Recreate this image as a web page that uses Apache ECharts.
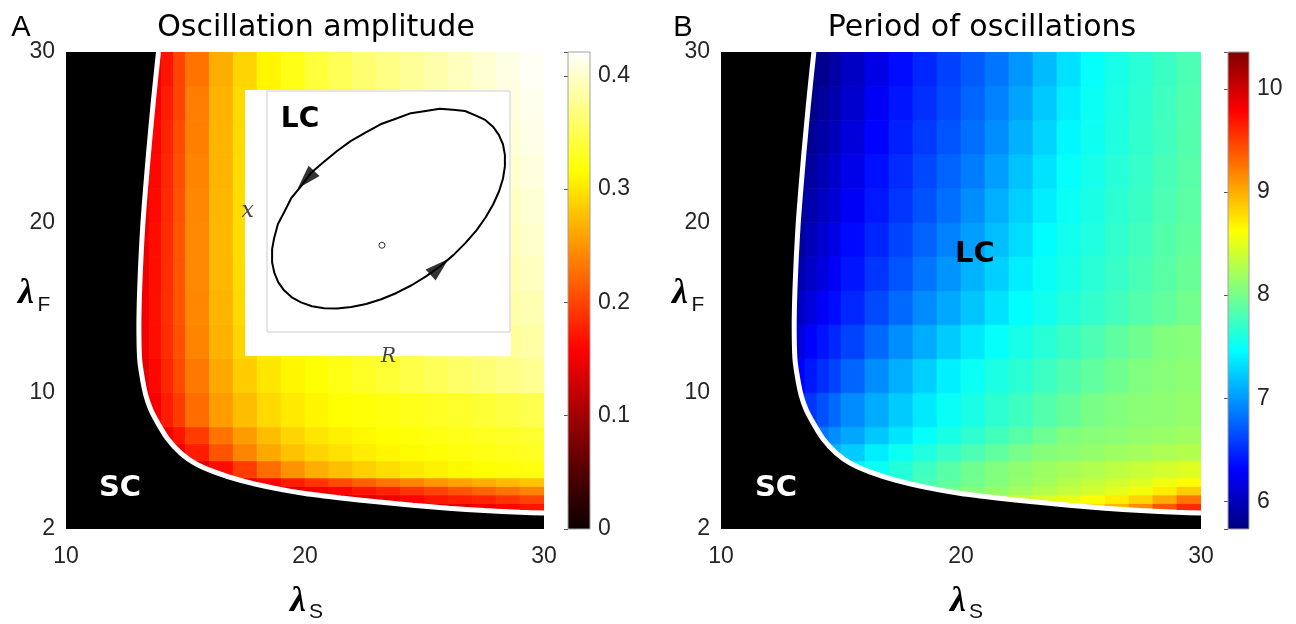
<!DOCTYPE html>
<html><head><meta charset="utf-8">
<script src="https://cdn.jsdelivr.net/npm/echarts@6/dist/echarts.min.js"></script>
<style>html,body{margin:0;padding:0;background:#fff}#c{width:1296px;height:624px}</style>
</head><body><div id="c"></div>
<script>
// ---------- data ----------
const lamS_edges = [10,13,13.5,14,14.5,15,16,17,18,19,20,21,22,23,24,25,26,27,28,29,30];
const lamF_edges = [2,3,3.5,4,4.5,5,6,7,8,10,12,14,16,18,20,22,24,26,28,30];
// amplitude, rows from bottom (λF 2–3) to top (λF 28–30), columns follow lamS_edges
const amplitude = [
 [0,0,0,0,0,0,0,0,0,0,0,0,0,0,0,0,0,0,0,0],
 [0,0,0,0,0,0,0,0,0,0,0,0,0,0,0.12,0.13,0.14,0.15,0.16,0.17],
 [0,0,0,0,0,0,0,0,0,0,0.12,0.13,0.14,0.15,0.16,0.17,0.175,0.18,0.19,0.20],
 [0,0,0,0,0,0,0,0,0.12,0.14,0.15,0.16,0.17,0.18,0.19,0.20,0.21,0.22,0.23,0.24],
 [0,0,0,0,0,0,0.11,0.14,0.16,0.175,0.19,0.205,0.218,0.23,0.24,0.25,0.258,0.266,0.273,0.28],
 [0,0,0,0,0,0.14,0.165,0.195,0.225,0.248,0.265,0.276,0.286,0.295,0.302,0.308,0.312,0.316,0.319,0.322],
 [0,0,0,0.12,0.15,0.175,0.21,0.24,0.262,0.278,0.29,0.298,0.305,0.31,0.314,0.318,0.321,0.324,0.327,0.33],
 [0,0,0.13,0.15,0.17,0.195,0.23,0.255,0.275,0.29,0.30,0.307,0.312,0.316,0.32,0.323,0.326,0.329,0.332,0.335],
 [0,0.13,0.155,0.175,0.195,0.225,0.255,0.275,0.292,0.303,0.31,0.316,0.318,0.322,0.326,0.33,0.334,0.338,0.343,0.348],
 [0,0.14,0.162,0.182,0.204,0.232,0.262,0.284,0.30,0.31,0.317,0.324,0.331,0.338,0.345,0.352,0.358,0.364,0.37,0.376],
 [0,0.15,0.166,0.186,0.208,0.24,0.268,0.29,0.304,0.313,0.321,0.329,0.337,0.344,0.351,0.358,0.365,0.372,0.378,0.384],
 [0,0.15,0.167,0.187,0.21,0.242,0.27,0.292,0.306,0.316,0.325,0.333,0.341,0.349,0.356,0.363,0.37,0.377,0.384,0.39],
 [0,0.15,0.166,0.186,0.21,0.243,0.272,0.294,0.308,0.318,0.327,0.336,0.344,0.352,0.36,0.367,0.374,0.381,0.388,0.395],
 [0,0.145,0.165,0.185,0.21,0.243,0.272,0.295,0.31,0.32,0.33,0.34,0.348,0.356,0.364,0.371,0.378,0.385,0.392,0.399],
 [0,0.14,0.163,0.184,0.209,0.242,0.271,0.295,0.31,0.321,0.332,0.342,0.351,0.359,0.367,0.375,0.382,0.389,0.396,0.403],
 [0,0.135,0.162,0.182,0.207,0.24,0.27,0.294,0.31,0.322,0.335,0.345,0.354,0.362,0.37,0.378,0.386,0.393,0.40,0.407],
 [0,0,0.16,0.18,0.205,0.237,0.27,0.293,0.31,0.323,0.337,0.348,0.357,0.365,0.373,0.381,0.389,0.397,0.404,0.411],
 [0,0,0.155,0.175,0.20,0.235,0.268,0.292,0.31,0.325,0.34,0.35,0.36,0.368,0.376,0.384,0.392,0.40,0.407,0.414],
 [0,0,0.15,0.17,0.20,0.23,0.265,0.29,0.31,0.325,0.34,0.352,0.362,0.37,0.378,0.386,0.394,0.402,0.41,0.417]
];
// period, same layout; null = steady state (no oscillation)
const _ = null;
const period = [
 [_,_,_,_,_,_,_,_,_,_,_,_,_,_,_,_,_,_,_,_],
 [_,_,_,_,_,_,_,_,_,_,_,_,_,8.6,8.7,8.8,8.95,9.15,9.4,9.6],
 [_,_,_,_,_,_,_,_,_,_,8.25,8.30,8.37,8.45,8.52,8.60,8.70,8.82,9.0,9.25],
 [_,_,_,_,_,_,_,_,7.95,8.00,8.07,8.14,8.21,8.28,8.35,8.42,8.49,8.57,8.70,8.85],
 [_,_,_,_,_,_,_,7.70,7.80,7.90,7.98,8.06,8.14,8.21,8.28,8.35,8.42,8.48,8.56,8.64],
 [_,_,_,_,_,7.42,7.51,7.63,7.75,7.87,7.97,8.05,8.12,8.17,8.22,8.27,8.32,8.37,8.42,8.47],
 [_,_,_,_,7.12,7.23,7.39,7.52,7.61,7.71,7.81,7.90,8.00,8.07,8.10,8.14,8.18,8.21,8.25,8.28],
 [_,_,6.75,6.85,6.95,7.06,7.21,7.35,7.49,7.58,7.68,7.77,7.86,7.96,8.05,8.08,8.10,8.13,8.16,8.19],
 [_,6.45,6.55,6.67,6.79,6.94,7.09,7.23,7.37,7.50,7.58,7.67,7.75,7.84,7.92,8.01,8.06,8.09,8.11,8.14],
 [_,6.31,6.41,6.51,6.61,6.76,6.95,7.10,7.25,7.40,7.51,7.59,7.66,7.74,7.82,7.90,7.97,8.05,8.08,8.11],
 [_,6.15,6.30,6.39,6.48,6.61,6.79,6.95,7.09,7.23,7.36,7.49,7.57,7.65,7.73,7.81,7.89,7.97,8.05,8.08],
 [_,6.03,6.15,6.27,6.36,6.48,6.64,6.79,6.94,7.07,7.20,7.34,7.47,7.54,7.62,7.69,7.76,7.84,7.91,7.98],
 [_,5.93,6.05,6.16,6.28,6.40,6.55,6.69,6.84,6.98,7.12,7.25,7.39,7.50,7.57,7.65,7.72,7.80,7.87,7.94],
 [_,5.87,5.98,6.09,6.19,6.34,6.47,6.61,6.75,6.89,7.03,7.17,7.31,7.46,7.54,7.61,7.69,7.76,7.84,7.91],
 [_,5.83,5.92,6.02,6.12,6.27,6.41,6.55,6.68,6.81,6.95,7.10,7.25,7.39,7.51,7.58,7.66,7.73,7.81,7.88],
 [_,5.80,5.87,5.97,6.07,6.21,6.37,6.50,6.63,6.75,6.87,7.03,7.19,7.34,7.49,7.56,7.64,7.71,7.79,7.86],
 [_,_,5.82,5.91,6.00,6.14,6.32,6.45,6.57,6.69,6.81,6.95,7.11,7.27,7.44,7.53,7.61,7.69,7.76,7.84],
 [_,_,5.77,5.85,5.94,6.08,6.26,6.40,6.52,6.64,6.76,6.89,7.05,7.22,7.39,7.51,7.59,7.67,7.75,7.83],
 [_,_,5.75,5.80,5.89,6.03,6.20,6.36,6.48,6.60,6.72,6.84,6.99,7.16,7.33,7.49,7.57,7.65,7.73,7.81]
];
// bifurcation boundary (λS, λF), from top edge to right edge
const boundaryS = [13.87,13.72,13.58,13.45,13.33,13.22,13.14,13.08,13.05,13.08,13.2,13.35,13.55,13.85,14.25,14.8,15.4,16.2,17.3,18.7,20.0,21.5,23.0,24.5,26.0,27.5,29.0,30];
const boundaryF = [30,28,26,24,22,20,18,16,14,12,10.8,9.8,9.0,8.2,7.3,6.45,5.85,5.35,4.85,4.4,4.08,3.82,3.6,3.4,3.22,3.08,2.98,2.94];
const xTicks = [10,20,30];
const yTicks = [2,10,20,30];
const ampTicks = [0,0.1,0.2,0.3,0.4];
const perTicks = [6,7,8,9,10];
const ampRange = [0, 0.421];
const perRange = [5.73, 10.36];
// inset limit cycle (normalised R, x)
const cycleR = [0.930,0.954,0.971,0.979,0.979,0.971,0.955,0.931,0.900,0.862,0.817,0.768,0.714,0.656,0.595,0.533,0.470,0.408,0.347,0.289,0.235,0.185,0.140,0.102,0.070,0.046,0.030,0.021,0.021,0.029,0.045,0.069,0.100,0.138,0.183,0.232,0.287,0.344,0.405,0.467,0.530,0.592,0.653,0.711,0.765,0.815,0.860,0.898,0.930];
const cycleX = [0.852,0.818,0.779,0.735,0.687,0.636,0.584,0.530,0.476,0.422,0.370,0.320,0.274,0.232,0.194,0.162,0.136,0.116,0.104,0.098,0.099,0.107,0.123,0.144,0.173,0.207,0.246,0.289,0.344,0.388,0.448,0.494,0.556,0.602,0.662,0.704,0.750,0.792,0.827,0.862,0.885,0.908,0.917,0.926,0.922,0.917,0.898,0.880,0.852];
const fixedPoint = [0.473, 0.360];
const arrowR = [0.160, 0.710];
const arrowX = [0.632, 0.270];
const arrowAngle = [137, -48];

// ---------- styles ----------
const HOT = ['#0b0000','#550000','#aa0000','#ff0000','#ff5500','#ffaa00','#ffff00','#ffff80','#ffffff'];
const JET = ['#000080','#0000ff','#0080ff','#00ffff','#80ff80','#ffff00','#ff8000','#ff0000','#800000'];
const TXT = '#262626';
const tickFont = {fontFamily:'Liberation Sans', fontSize:23, color:TXT};
const near = (arr, v) => arr.some(t => Math.abs(t - v) < 1e-6);

function cells(values) {
  const out = [];
  for (let j = 0; j < values.length; j++) for (let i = 0; i < values[j].length; i++) {
    const v = values[j][i];
    if (v === null) continue;
    out.push([(lamS_edges[i] + lamS_edges[i+1]) / 2, (lamF_edges[j] + lamF_edges[j+1]) / 2, v, i, j]);
  }
  return out;
}
function renderCell(params, api) {
  const i = api.value(3), j = api.value(4);
  const p0 = api.coord([lamS_edges[i], lamF_edges[j]]);
  const p1 = api.coord([lamS_edges[i+1], lamF_edges[j+1]]);
  const c = api.visual('color');
  return {type:'rect', shape:{x:p0[0], y:p1[1], width:p1[0]-p0[0], height:p0[1]-p1[1]}, style:{fill:c, stroke:c, lineWidth:0.8}};
}
function renderSC(params, api) {
  const pts = [api.coord([lamS_edges[0], lamF_edges[lamF_edges.length-1]])];
  for (let k = 0; k < boundaryS.length; k++) pts.push(api.coord([boundaryS[k], boundaryF[k]]));
  pts.push(api.coord([lamS_edges[lamS_edges.length-1], lamF_edges[0]]));
  pts.push(api.coord([lamS_edges[0], lamF_edges[0]]));
  return {type:'polygon', shape:{points:pts}, style:{fill:'#000'}};
}
function colorbar(axisIdx, range, colors) {
  return {type:'custom', xAxisIndex:axisIdx, yAxisIndex:axisIdx, silent:true, z:2,
    data:[[0, range[0], range[1]]],
    renderItem: (p, api) => {
      const a = api.coord([0, range[0]]), b = api.coord([1, range[1]]);
      return {type:'rect', shape:{x:a[0], y:b[1], width:b[0]-a[0], height:a[1]-b[1]},
        style:{fill:{type:'linear', x:0, y:1, x2:0, y2:0, global:false,
          colorStops: colors.map((c, k) => ({offset:k/(colors.length-1), color:c}))},
          stroke:'#a0a0a0', lineWidth:1}};
    }};
}
const boundaryData = boundaryS.map((s, k) => [s, boundaryF[k]]);

function mainX(gi) {
  return {type:'value', gridIndex:gi, min:10, max:30, interval:10,
    axisLine:{show:false}, axisTick:{show:false}, splitLine:{show:false},
    axisLabel:{...tickFont, margin:16, showMinLabel:true, showMaxLabel:true,
      formatter: v => near(xTicks, v) ? String(v) : ''}};
}
function mainY(gi) {
  return {type:'value', gridIndex:gi, min:2, max:30, interval:2,
    axisLine:{show:false}, axisTick:{show:false}, splitLine:{show:false},
    axisLabel:{...tickFont, margin:11, showMinLabel:true, showMaxLabel:true,
      formatter: v => near(yTicks, v) ? String(v) : ''}};
}
function cbX(gi) { return {type:'value', gridIndex:gi, min:0, max:1, show:false}; }
function cbY(gi, range, ticks) {
  return {type:'value', gridIndex:gi, min:range[0], max:range[1], position:'right',
    axisLine:{show:false}, splitLine:{show:false},
    axisTick:{show:true, inside:true, length:4, lineStyle:{color:'#555', width:1}},
    axisLabel:{...tickFont, margin:8, showMinLabel:true, showMaxLabel:true,
      formatter: v => near(ticks, v) ? String(Math.round(v*10)/10) : ''}};
}

const txt = (t, x, y, o) => ({type:'text', x, y, z:30, style:Object.assign({text:t, fill:TXT, align:'center', verticalAlign:'middle',
  fontFamily:'Liberation Sans', fontSize:23}, o || {})});

const option = {
  backgroundColor:'#fff',
  animation:false,
  grid:[
    {left:66, top:52, width:478, height:477},
    {left:568, top:52, width:22, height:477},
    {left:721, top:52, width:480, height:477},
    {left:1228, top:52, width:21, height:477},
    {left:267, top:91, width:243, height:241, show:true, backgroundColor:'#fff', borderColor:'#cccccc', borderWidth:1, z:11}
  ],
  xAxis:[mainX(0), cbX(1), mainX(2), cbX(3),
    {type:'value', gridIndex:4, min:0, max:1, z:11, axisLine:{show:false}, axisTick:{show:false}, axisLabel:{show:false}, splitLine:{show:false},
     name:'R', nameLocation:'middle', nameGap:15, nameTextStyle:{fontFamily:'DejaVu Serif', fontStyle:'italic', fontSize:20, color:'#444'}}],
  yAxis:[mainY(0), cbY(1, ampRange, ampTicks), mainY(2), cbY(3, perRange, perTicks),
    {type:'value', gridIndex:4, min:0, max:1, z:11, axisLine:{show:false}, axisTick:{show:false}, axisLabel:{show:false}, splitLine:{show:false},
     name:'x', nameLocation:'middle', nameGap:13, nameRotate:0, nameTextStyle:{fontFamily:'DejaVu Serif', fontStyle:'italic', fontSize:22, color:'#444'}}],
  visualMap:[
    {type:'continuous', show:false, min:ampRange[0], max:ampRange[1], dimension:2, seriesIndex:0, inRange:{color:HOT}},
    {type:'continuous', show:false, min:perRange[0], max:perRange[1], dimension:2, seriesIndex:4, inRange:{color:JET}}
  ],
  series:[
    {type:'custom', xAxisIndex:0, yAxisIndex:0, data:cells(amplitude), renderItem:renderCell, clip:true, z:2, silent:true},
    {type:'custom', xAxisIndex:0, yAxisIndex:0, data:[[10,2]], renderItem:renderSC, clip:true, z:3, silent:true},
    {type:'line', xAxisIndex:0, yAxisIndex:0, data:boundaryData, symbol:'none', smooth:0.2, clip:true, z:4,
      lineStyle:{color:'#fff', width:5}},
    colorbar(1, ampRange, HOT),
    {type:'custom', xAxisIndex:2, yAxisIndex:2, data:cells(period), renderItem:renderCell, clip:true, z:2, silent:true},
    {type:'custom', xAxisIndex:2, yAxisIndex:2, data:[[10,2]], renderItem:renderSC, clip:true, z:3, silent:true},
    {type:'line', xAxisIndex:2, yAxisIndex:2, data:boundaryData, symbol:'none', smooth:0.2, clip:true, z:4,
      lineStyle:{color:'#fff', width:5}},
    colorbar(3, perRange, JET),
    {type:'line', xAxisIndex:4, yAxisIndex:4, data:cycleR.map((r, k) => [r, cycleX[k]]), symbol:'none', smooth:false, z:12,
      lineStyle:{color:'#000', width:2, join:'round'}},
    {type:'scatter', xAxisIndex:4, yAxisIndex:4, data:[fixedPoint], symbol:'circle', symbolSize:6, z:13,
      itemStyle:{color:'#fff', borderColor:'#000', borderWidth:1}},
    {type:'scatter', xAxisIndex:4, yAxisIndex:4, z:13, symbol:'triangle', symbolSize:[15,24],
      data:arrowR.map((r, k) => ({value:[r, arrowX[k]], symbolRotate:arrowAngle[k]})),
      itemStyle:{color:'#000'}}
  ],
  graphic:[
    {type:'rect', z:10, shape:{x:245, y:90, width:266, height:266}, style:{fill:'#fff'}},
    txt('A', 21, 28, {fontSize:29, fill:'#000'}),
    txt('B', 683, 28, {fontSize:29, fill:'#000'}),
    txt('Oscillation amplitude', 316, 28, {fontFamily:'DejaVu Sans', fontSize:30, fill:'#000'}),
    txt('Period of oscillations', 982, 28, {fontFamily:'DejaVu Sans', fontSize:30, fill:'#000'}),
    txt('λ', 26, 294, {fontFamily:'Liberation Serif', fontWeight:'bold', fontStyle:'italic', fontSize:36, fill:'#000'}),
    txt('F', 44, 305, {fontSize:21, fill:'#111'}),
    txt('λ', 298, 602, {fontFamily:'Liberation Serif', fontWeight:'bold', fontStyle:'italic', fontSize:36, fill:'#000'}),
    txt('S', 316, 612, {fontSize:21, fill:'#111'}),
    txt('λ', 680, 294, {fontFamily:'Liberation Serif', fontWeight:'bold', fontStyle:'italic', fontSize:36, fill:'#000'}),
    txt('F', 698, 305, {fontSize:21, fill:'#111'}),
    txt('λ', 958, 602, {fontFamily:'Liberation Serif', fontWeight:'bold', fontStyle:'italic', fontSize:36, fill:'#000'}),
    txt('S', 976, 612, {fontSize:21, fill:'#111'}),
    txt('SC', 120, 488, {fontFamily:'DejaVu Sans', fontWeight:'bold', fontSize:29, fill:'#fff'}),
    txt('SC', 776, 488, {fontFamily:'DejaVu Sans', fontWeight:'bold', fontSize:29, fill:'#fff'}),
    txt('LC', 975, 254, {fontFamily:'DejaVu Sans', fontWeight:'bold', fontSize:29, fill:'#000'}),
    txt('LC', 300, 120, {fontFamily:'DejaVu Sans', fontWeight:'bold', fontSize:28, fill:'#000'})
  ]
};
const chart = echarts.init(document.getElementById('c'));
chart.setOption(option);
</script>
</body></html>
